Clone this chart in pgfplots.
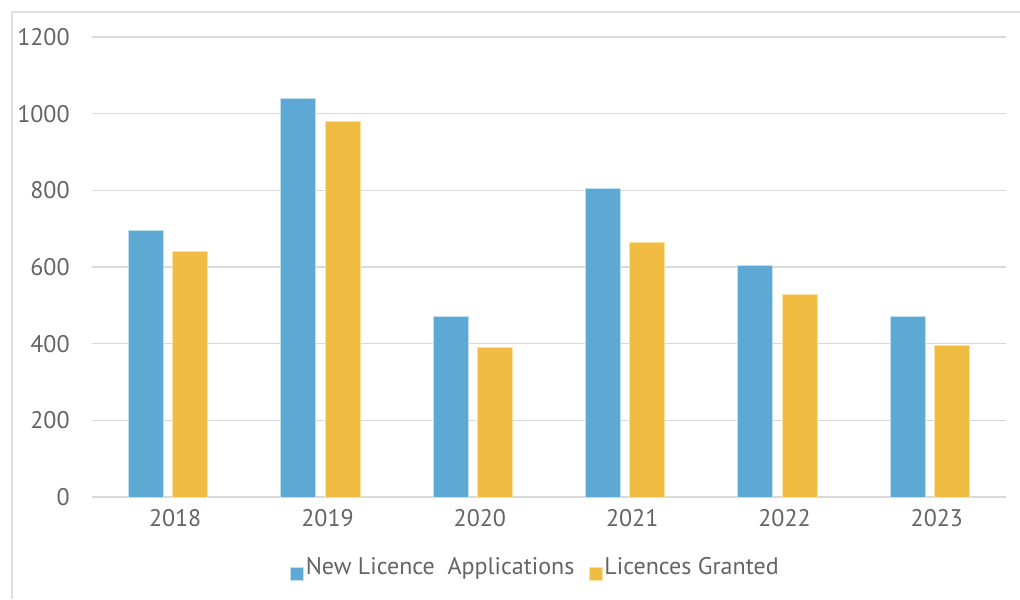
\documentclass[border=0pt]{standalone}
\usepackage{pgfplots}
\pgfplotsset{compat=1.18}
\usepackage{fontspec}
\setmainfont{PT Sans}
\definecolor{barblue}{RGB}{94,169,212}
\definecolor{barblueedge}{RGB}{190,224,242}
\definecolor{barorange}{RGB}{240,189,66}
\definecolor{barorangeedge}{RGB}{250,225,160}
\definecolor{gridgray}{RGB}{217,217,217}
\definecolor{framegray}{RGB}{224,224,224}
\definecolor{txtgray}{RGB}{100,100,100}
\begin{document}
\begin{tikzpicture}
\useasboundingbox (0,0) rectangle (510pt,299.5pt);
\draw[framegray, line width=1pt] (6pt,0) -- (6pt,293.5pt) -- (510pt,293.5pt);
\begin{axis}[
  at={(46pt,51pt)}, anchor=south west,
  scale only axis, width=457pt, height=230pt,
  xmin=-0.5, xmax=5.5, ymin=0, ymax=1200,
  axis line style={draw=none},
  tick style={draw=none},
  major tick length=0pt,
  xtick={0,1,2,3,4,5},
  xticklabels={2018,2019,2020,2021,2022,2023},
  ytick={0,200,400,600,800,1000,1200},
  ymajorgrids, grid style={gridgray, line width=0.8pt},
  every tick label/.append style={font=\fontsize{12}{14}\selectfont, text=txtgray},
  yticklabel style={anchor=east, inner sep=0pt, xshift=-11pt},
  xticklabel style={anchor=north, inner sep=0pt, yshift=-6pt, xshift=3.5pt},
  /pgf/number format/assume math mode=true,
  /pgf/number format/1000 sep={},
  legend columns=2,
  legend style={at={(0.485,-0.154)}, anchor=center, draw=none, fill=none,
    font=\fontsize{12}{14}\selectfont, text=txtgray,
    /tikz/every even column/.append style={column sep=6pt},
    nodes={inner sep=1pt}},
  legend image code/.code={\fill[#1] (0pt,-6.5pt) rectangle (6.5pt,0pt);},
]
\addplot[ybar, bar width=0.23, bar shift=-0.145, fill=barblue, draw=barblueedge, line width=0.5pt]
  coordinates {(0,695) (1,1039) (2,470) (3,806) (4,603) (5,470)};
\addplot[ybar, bar width=0.23, bar shift=0.145, fill=barorange, draw=barorangeedge, line width=0.5pt]
  coordinates {(0,640) (1,979) (2,391) (3,664) (4,529) (5,395)};
\legend{New Licence\ \ Applications, Licences Granted}
\end{axis}
\end{tikzpicture}
\end{document}
